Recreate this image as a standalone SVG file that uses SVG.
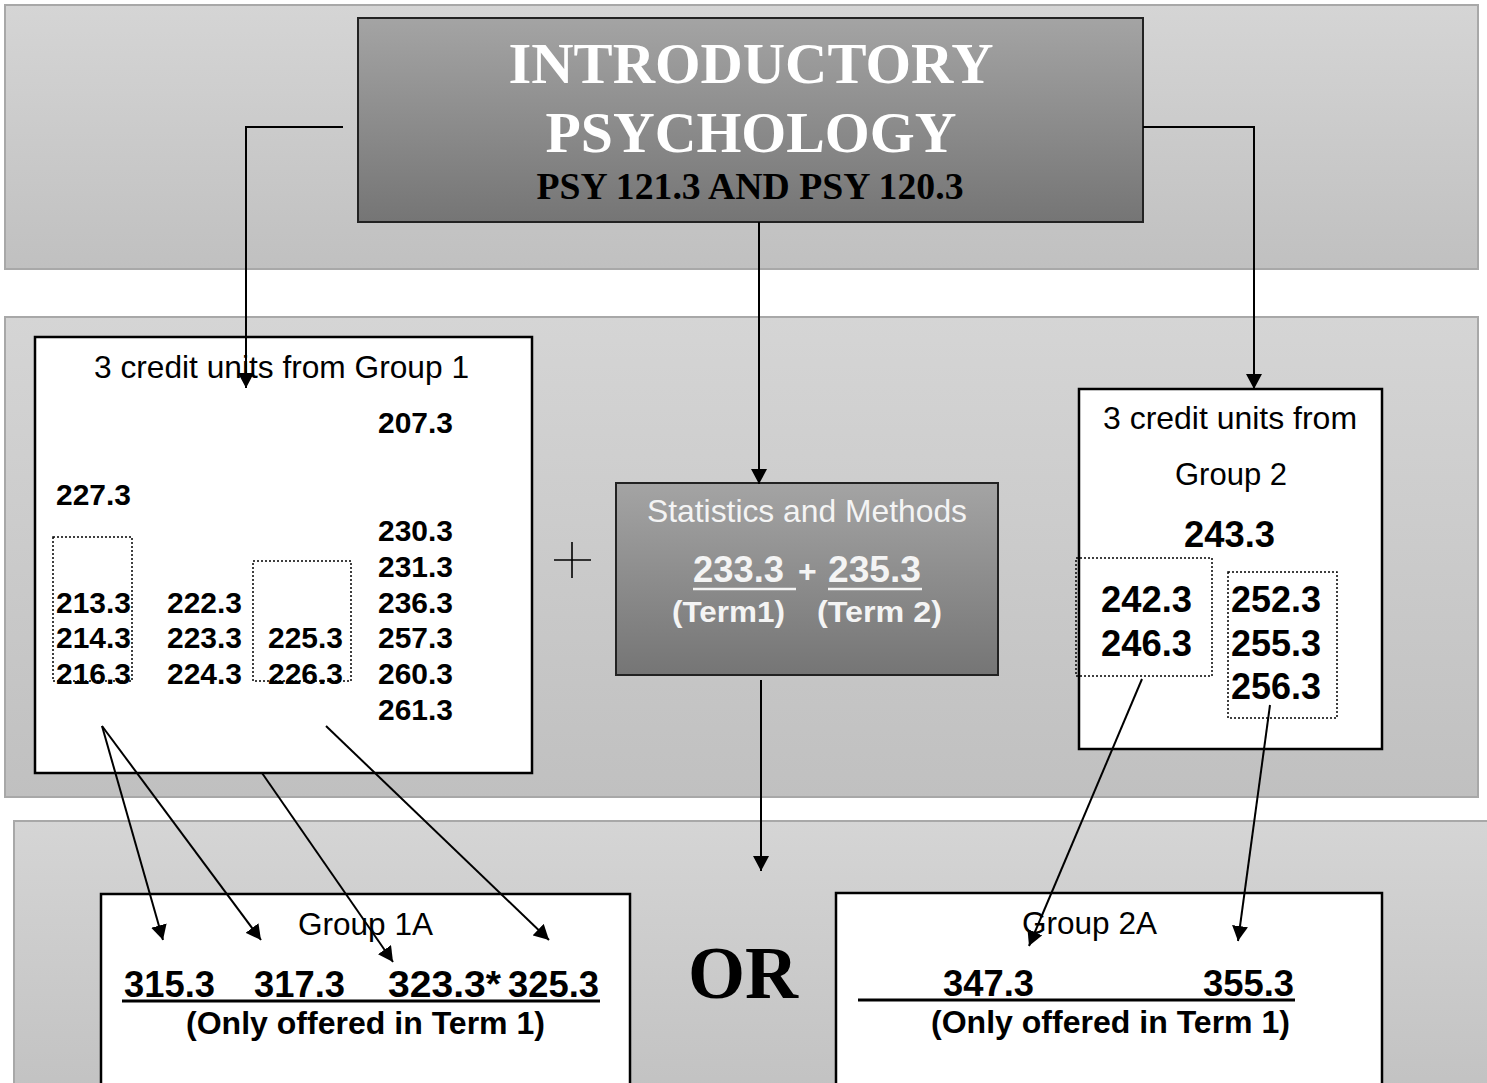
<svg xmlns="http://www.w3.org/2000/svg" width="1487" height="1083" viewBox="0 0 1487 1083">
<defs>
  <linearGradient id="gBand" x1="0" y1="0" x2="0" y2="1">
    <stop offset="0" stop-color="#d5d5d5"/>
    <stop offset="1" stop-color="#c0c0c0"/>
  </linearGradient>
  <linearGradient id="gDark" x1="0" y1="0" x2="0" y2="1">
    <stop offset="0" stop-color="#a4a4a4"/>
    <stop offset="1" stop-color="#757575"/>
  </linearGradient>
  <marker id="ah" viewBox="0 0 15 16" refX="15" refY="8" markerWidth="15" markerHeight="16" orient="auto" markerUnits="userSpaceOnUse">
    <path d="M0,0 L15,8 L0,16 z" fill="#000"/>
  </marker>
</defs>
<style>
  .band{fill:url(#gBand);stroke:#a8a8a8;stroke-width:2}
  .box{fill:#fff;stroke:#000;stroke-width:2.5}
  .dk{fill:url(#gDark);stroke:#222;stroke-width:2}
  .dot{fill:none;stroke:#000;stroke-width:1.5;stroke-dasharray:2 2}
  .conn{fill:none;stroke:#000;stroke-width:2}
  .arr{marker-end:url(#ah)}
  .sans{font-family:"Liberation Sans",Arial,sans-serif}
  .serif{font-family:"Liberation Serif","Times New Roman",serif;font-weight:bold}
  .lbl{font-family:"Liberation Sans",Arial,sans-serif;font-size:32px;fill:#000}
  .n1{font-family:"Liberation Sans",Arial,sans-serif;font-weight:bold;font-size:30px;fill:#000}
  .n2{font-family:"Liberation Sans",Arial,sans-serif;font-weight:bold;font-size:36px;fill:#000}
  .n3{font-family:"Liberation Sans",Arial,sans-serif;font-weight:bold;font-size:37px;fill:#000}
  .note{font-family:"Liberation Sans",Arial,sans-serif;font-weight:bold;font-size:32px;fill:#000}
  .wt{fill:#f4f4f4}
  .ul{stroke:#000;stroke-width:3}
</style>

<g id="bands">
  <rect class="band" x="5" y="5" width="1473" height="264"/>
  <rect class="band" x="5" y="317" width="1473" height="480"/>
  <rect class="band" x="14" y="821" width="1490" height="300"/>
</g>

<g id="node-intro">
  <rect class="dk" x="358" y="18" width="785" height="204"/>
  <text class="serif" x="751" y="83" font-size="58" fill="#fff" text-anchor="middle" textLength="485" lengthAdjust="spacingAndGlyphs">INTRODUCTORY</text>
  <text class="serif" x="751" y="152" font-size="58" fill="#fff" text-anchor="middle" textLength="411" lengthAdjust="spacingAndGlyphs">PSYCHOLOGY</text>
  <text class="serif" x="750" y="199" font-size="37" fill="#000" text-anchor="middle" textLength="427" lengthAdjust="spacingAndGlyphs">PSY 121.3 AND PSY 120.3</text>
</g>

<g id="node-group1">
  <rect class="box" x="35" y="337" width="497" height="436"/>
  <text class="lbl" x="94" y="378" textLength="375" lengthAdjust="spacingAndGlyphs">3 credit units from Group 1</text>
  <text class="n1" x="378" y="433" textLength="75" lengthAdjust="spacingAndGlyphs">207.3</text>
  <text class="n1" x="56" y="505" textLength="75" lengthAdjust="spacingAndGlyphs">227.3</text>
  <text class="n1" x="378" y="541" textLength="75" lengthAdjust="spacingAndGlyphs">230.3</text>
  <text class="n1" x="378" y="577" textLength="75" lengthAdjust="spacingAndGlyphs">231.3</text>
  <text class="n1" x="378" y="613" textLength="75" lengthAdjust="spacingAndGlyphs">236.3</text>
  <text class="n1" x="378" y="648" textLength="75" lengthAdjust="spacingAndGlyphs">257.3</text>
  <text class="n1" x="378" y="684" textLength="75" lengthAdjust="spacingAndGlyphs">260.3</text>
  <text class="n1" x="378" y="720" textLength="75" lengthAdjust="spacingAndGlyphs">261.3</text>
  <text class="n1" x="56" y="613" textLength="75" lengthAdjust="spacingAndGlyphs">213.3</text>
  <text class="n1" x="56" y="648" textLength="75" lengthAdjust="spacingAndGlyphs">214.3</text>
  <text class="n1" x="56" y="684" textLength="75" lengthAdjust="spacingAndGlyphs">216.3</text>
  <text class="n1" x="167" y="613" textLength="75" lengthAdjust="spacingAndGlyphs">222.3</text>
  <text class="n1" x="167" y="648" textLength="75" lengthAdjust="spacingAndGlyphs">223.3</text>
  <text class="n1" x="167" y="684" textLength="75" lengthAdjust="spacingAndGlyphs">224.3</text>
  <text class="n1" x="268" y="648" textLength="75" lengthAdjust="spacingAndGlyphs">225.3</text>
  <text class="n1" x="268" y="684" textLength="75" lengthAdjust="spacingAndGlyphs">226.3</text>
  <rect class="dot" x="53" y="537" width="79" height="144"/>
  <rect class="dot" x="253" y="561" width="98" height="120"/>
</g>

<g id="node-plus">
  <line x1="554" y1="560" x2="591" y2="560" stroke="#000" stroke-width="1.6"/>
  <line x1="572" y1="542" x2="572" y2="578" stroke="#000" stroke-width="1.6"/>
</g>

<g id="node-stats">
  <rect class="dk" x="616" y="483" width="382" height="192"/>
  <text class="sans wt" x="647" y="522" font-size="32" textLength="320" lengthAdjust="spacingAndGlyphs">Statistics and Methods</text>
  <text class="sans wt" x="693" y="582" font-size="36" font-weight="bold" textLength="91" lengthAdjust="spacingAndGlyphs">233.3</text>
  <text class="sans wt" x="798" y="582" font-size="32" font-weight="bold">+</text>
  <text class="sans wt" x="828" y="582" font-size="36" font-weight="bold" textLength="93" lengthAdjust="spacingAndGlyphs">235.3</text>
  <line x1="693" y1="589" x2="796" y2="589" stroke="#f4f4f4" stroke-width="2.5"/>
  <line x1="828" y1="589" x2="922" y2="589" stroke="#f4f4f4" stroke-width="2.5"/>
  <text class="sans wt" x="672" y="622" font-size="30" font-weight="bold" textLength="113" lengthAdjust="spacingAndGlyphs">(Term1)</text>
  <text class="sans wt" x="817" y="622" font-size="30" font-weight="bold" textLength="125" lengthAdjust="spacingAndGlyphs">(Term 2)</text>
</g>

<g id="node-group2">
  <rect class="box" x="1079" y="389" width="303" height="360"/>
  <text class="lbl" x="1230" y="429" text-anchor="middle" textLength="254" lengthAdjust="spacingAndGlyphs">3 credit units from</text>
  <text class="lbl" x="1231" y="485" text-anchor="middle" textLength="112" lengthAdjust="spacingAndGlyphs">Group 2</text>
  <text class="n2" x="1184" y="547" textLength="91" lengthAdjust="spacingAndGlyphs">243.3</text>
  <text class="n2" x="1101" y="612" textLength="91" lengthAdjust="spacingAndGlyphs">242.3</text>
  <text class="n2" x="1101" y="656" textLength="91" lengthAdjust="spacingAndGlyphs">246.3</text>
  <text class="n2" x="1231" y="612" textLength="90" lengthAdjust="spacingAndGlyphs">252.3</text>
  <text class="n2" x="1231" y="656" textLength="90" lengthAdjust="spacingAndGlyphs">255.3</text>
  <text class="n2" x="1231" y="699" textLength="90" lengthAdjust="spacingAndGlyphs">256.3</text>
  <rect class="dot" x="1076" y="558" width="136" height="118"/>
  <rect class="dot" x="1228" y="572" width="109" height="146"/>
</g>

<g id="node-or">
  <text class="serif" x="743" y="998" font-size="74" fill="#000" text-anchor="middle" textLength="110" lengthAdjust="spacingAndGlyphs">OR</text>
</g>

<g id="node-group1a">
  <rect class="box" x="101" y="894" width="529" height="220"/>
  <text class="lbl" x="298" y="935" textLength="135" lengthAdjust="spacingAndGlyphs">Group 1A</text>
  <text class="n3" x="124" y="997" textLength="91" lengthAdjust="spacingAndGlyphs">315.3</text>
  <text class="n3" x="254" y="997" textLength="91" lengthAdjust="spacingAndGlyphs">317.3</text>
  <text class="n3" x="388" y="997" textLength="113" lengthAdjust="spacingAndGlyphs">323.3*</text>
  <text class="n3" x="508" y="997" textLength="91" lengthAdjust="spacingAndGlyphs">325.3</text>
  <line class="ul" x1="122" y1="1001" x2="600" y2="1001"/>
  <text class="note" x="186" y="1034" textLength="359" lengthAdjust="spacingAndGlyphs">(Only offered in Term 1)</text>
</g>

<g id="node-group2a">
  <rect class="box" x="836" y="893" width="546" height="220"/>
  <text class="lbl" x="1022" y="934" textLength="135" lengthAdjust="spacingAndGlyphs">Group 2A</text>
  <text class="n3" x="943" y="996" textLength="91" lengthAdjust="spacingAndGlyphs">347.3</text>
  <text class="n3" x="1203" y="996" textLength="91" lengthAdjust="spacingAndGlyphs">355.3</text>
  <line class="ul" x1="858" y1="1000" x2="1295" y2="1000"/>
  <text class="note" x="931" y="1033" textLength="359" lengthAdjust="spacingAndGlyphs">(Only offered in Term 1)</text>
</g>

<g id="connectors">
  <polyline class="conn arr" points="343,127 246,127 246,388"/>
  <polyline class="conn arr" points="1143,127 1254,127 1254,389"/>
  <line class="conn arr" x1="759" y1="222" x2="759" y2="484"/>
  <line class="conn arr" x1="761" y1="680" x2="761" y2="871"/>
  <line class="conn arr" x1="102" y1="726" x2="163" y2="940"/>
  <line class="conn arr" x1="102" y1="726" x2="261" y2="940"/>
  <line class="conn arr" x1="262" y1="773" x2="393" y2="962"/>
  <line class="conn arr" x1="326" y1="726" x2="549" y2="940"/>
  <line class="conn arr" x1="1142" y1="679" x2="1029" y2="946"/>
  <line class="conn arr" x1="1270" y1="705" x2="1238" y2="941"/>
</g>
</svg>
